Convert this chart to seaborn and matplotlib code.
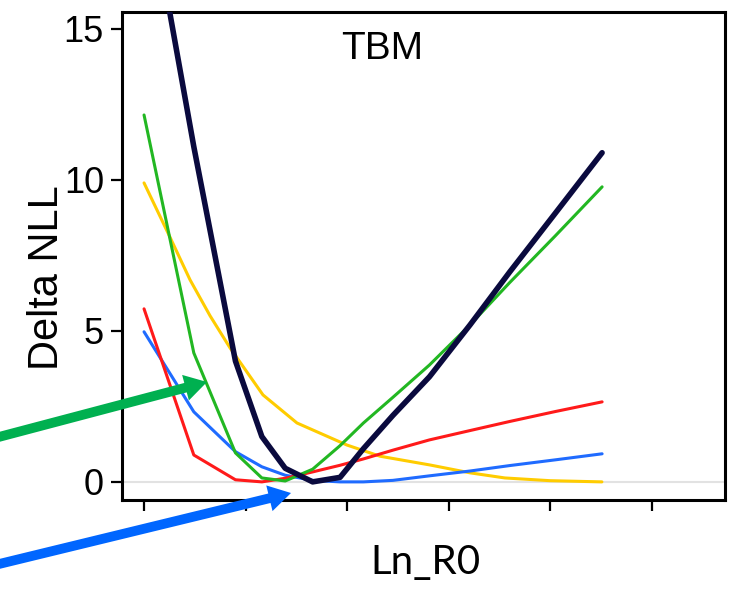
import matplotlib
matplotlib.use("Agg")
import matplotlib.pyplot as plt
from matplotlib.patches import FancyArrowPatch
import pandas as pd
import seaborn as sns

# Likelihood profile over Ln_R0 (tick units, ticks are unlabelled)
ln_r0 = [0, 0.49, 0.9, 1.16, 1.39, 1.66, 1.93, 2.16, 2.45, 2.81, 3.21, 3.6, 4.05, 4.51]
ln_r0_fine = [0, 0.256, 0.453, 0.65, 0.846, 1.171, 1.506, 1.998, 2.323, 2.815,
              3.209, 3.553, 3.996, 4.508]

yellow = [9.9, 8.1, 6.69, 5.5, 4.44, 2.88, 1.95, 1.22, 0.85, 0.56, 0.3, 0.13, 0.04, 0.0]
blue = [4.97, 2.32, 1.0, 0.5, 0.22, 0.05, 0.0, 0.0, 0.05, 0.2, 0.36, 0.54, 0.73, 0.93]
red = [5.73, 0.89, 0.07, 0.0, 0.12, 0.33, 0.55, 0.76, 1.05, 1.39, 1.70, 2.0, 2.33, 2.65]
green = [12.15, 4.27, 0.96, 0.13, 0.03, 0.42, 1.2, 1.95, 2.8, 3.87, 5.2, 6.6, 8.15, 9.77]
total = [20.3, 11.1, 4.0, 1.5, 0.45, 0.0, 0.15, 1.1, 2.2, 3.48, 5.2, 6.95, 8.9, 10.9]

y_ticks = [0, 5, 10, 15]
x_ticks = [0, 1, 2, 3, 4, 5]

sns.set_theme(style="white")
plt.rcParams["font.family"] = ["Liberation Sans", "DejaVu Sans"]
plt.rcParams["text.color"] = "black"
plt.rcParams["xtick.color"] = "black"
plt.rcParams["ytick.color"] = "black"
plt.rcParams["axes.labelcolor"] = "black"

fig = plt.figure(figsize=(7.30, 5.91), dpi=100)
ax = fig.add_axes([122 / 730, 1 - 500 / 591, 603 / 730, 488 / 591])

ax.axhline(0, color="#e2e2e2", lw=1.5, zorder=1)

series = [
    (ln_r0_fine, yellow, "#ffcc00", 2.2),
    (ln_r0, blue, "#1f6bff", 2.2),
    (ln_r0, red, "#ff1a1a", 2.2),
    (ln_r0, green, "#22b722", 2.2),
    (ln_r0, total, "#0a0a3e", 4.0),
]
for xs, vals, col, lw in series:
    df = pd.DataFrame({"Ln_R0": xs, "Delta NLL": vals})
    sns.lineplot(data=df, x="Ln_R0", y="Delta NLL", color=col, lw=lw,
                 ax=ax, sort=False, estimator=None, solid_capstyle="round",
                 zorder=3)

ax.set_xlim(-0.217, 5.72)
ax.set_ylim(-0.6, 15.56)
ax.set_xticks(x_ticks)
ax.set_xticklabels([])
ax.set_yticks(y_ticks)
ax.set_yticklabels([str(v) for v in y_ticks], fontsize=26)
ax.tick_params(axis="both", direction="out", length=8, width=1.6,
               color="black", labelcolor="black", pad=5, left=True, bottom=True)

for sp in ax.spines.values():
    sp.set_visible(True)
    sp.set_color("black")
    sp.set_linewidth(2.2)

ax.set_ylabel("Delta NLL", fontsize=30, va="center")
ax.yaxis.set_label_coords(-0.124, 0.456)
ax.set_xlabel("Ln_R0", fontsize=29, family=["Lato", "DejaVu Sans"], va="center")
ax.xaxis.set_label_coords(0.504, -0.129)

ax.text(0.431, 0.924, "TBM", transform=ax.transAxes, fontsize=28,
        ha="center", va="center")

# Pointer arrows in the left margin
for tail, tip, col in [((-5, 153), (207, 209), "#00b050"),
                       ((-5, 26), (291, 98), "#0066ff")]:
    arr = FancyArrowPatch(tail, tip, transform=None,
                          arrowstyle="simple,head_length=16,head_width=19,tail_width=7",
                          mutation_scale=1, color=col, lw=0, clip_on=False,
                          shrinkA=0, shrinkB=0)
    fig.add_artist(arr)

fig.savefig("out.png", dpi=100)
